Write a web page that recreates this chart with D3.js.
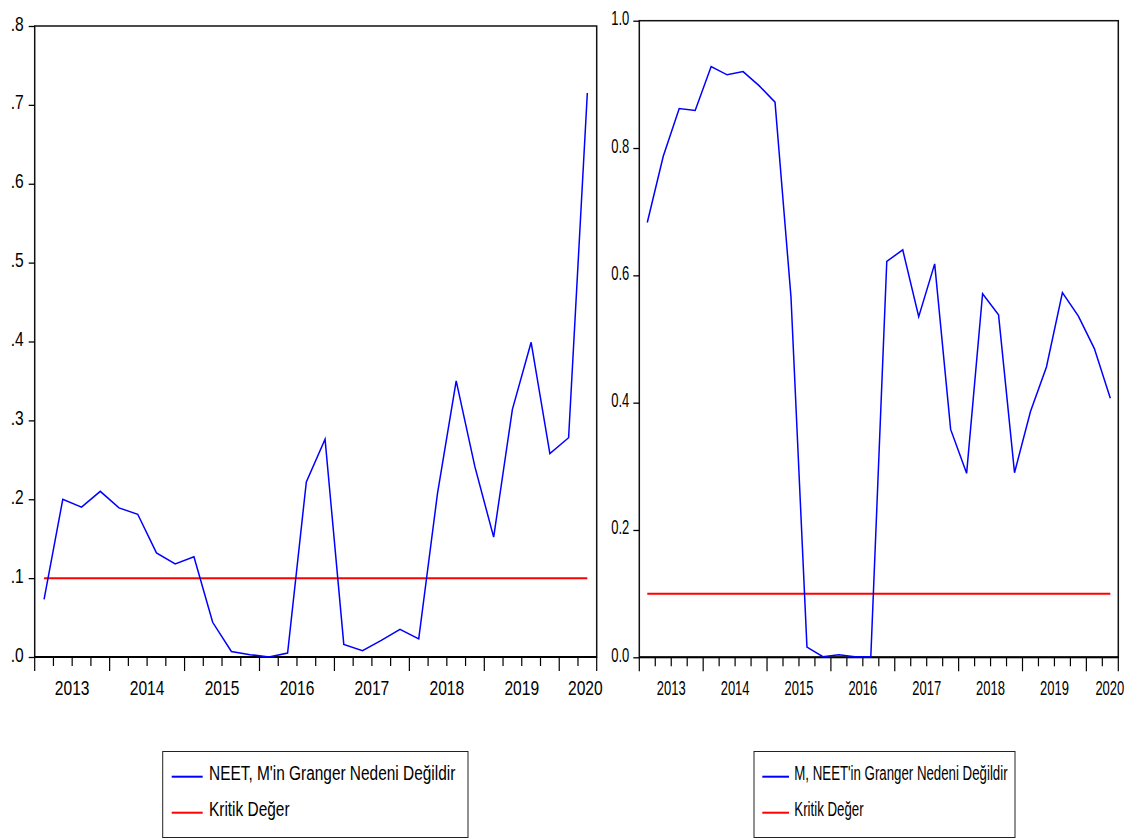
<!DOCTYPE html>
<html>
<head>
<meta charset="utf-8">
<script src="https://cdn.jsdelivr.net/npm/d3@7"></script>
<style>
  body { margin: 0; background: #fff; }
  text { font-family: "Liberation Sans Narrow", "Arial Narrow", "Liberation Sans", Arial, sans-serif; fill: #000; }
</style>
</head>
<body>
<script>
var width = 1133, height = 838;

// quarterly periods, 2013Q1 - 2020Q2
var quarters = ["2013Q1","2013Q2","2013Q3","2013Q4","2014Q1","2014Q2","2014Q3","2014Q4",
                "2015Q1","2015Q2","2015Q3","2015Q4","2016Q1","2016Q2","2016Q3","2016Q4",
                "2017Q1","2017Q2","2017Q3","2017Q4","2018Q1","2018Q2","2018Q3","2018Q4",
                "2019Q1","2019Q2","2019Q3","2019Q4","2020Q1","2020Q2"];
var years = ["2013","2014","2015","2016","2017","2018","2019","2020"];

// p-values, NEET -> M
var neetToM = [0.073, 0.200, 0.190, 0.210, 0.189, 0.181, 0.132, 0.118, 0.127, 0.044,
               0.007, 0.003, 0.000, 0.005, 0.222, 0.276, 0.016, 0.008, 0.021, 0.035,
               0.023, 0.207, 0.350, 0.241, 0.152, 0.314, 0.399, 0.258, 0.278, 0.715];
// p-values, M -> NEET
var mToNeet = [0.683, 0.787, 0.862, 0.859, 0.928, 0.915, 0.920, 0.898, 0.872, 0.566,
               0.016, 0.001, 0.004, 0.001, 0.001, 0.622, 0.640, 0.535, 0.618, 0.358,
               0.289, 0.571, 0.538, 0.290, 0.386, 0.456, 0.573, 0.536, 0.485, 0.407];
var kritikDeger = 0.10;

var leftTicks = [0, 0.1, 0.2, 0.3, 0.4, 0.5, 0.6, 0.7, 0.8];
var rightTicks = [0, 0.2, 0.4, 0.6, 0.8, 1.0];

var svg = d3.select("body").append("svg").attr("width", width).attr("height", height);

// no narrow font installed, so squeeze text horizontally
function placeText(sel, x, y, sx) {
    sel.attr("x", 0).attr("y", 0).attr("dy", null)
       .attr("transform", "translate(" + x + "," + y + ") scale(" + sx + ",1)");
}

function drawPanel(cfg) {
    var g = svg.append("g");
    var x = d3.scaleBand().domain(quarters).range([cfg.x0, cfg.x1]).padding(0);
    var bw = x.bandwidth();
    var cx = function(q) { return x(q) + bw / 2; };
    var y = d3.scaleLinear().domain([0, cfg.ymax]).range([cfg.bottom, cfg.top]);

    // frame
    g.append("rect").attr("x", cfg.x0).attr("y", cfg.top)
     .attr("width", cfg.x1 - cfg.x0).attr("height", cfg.bottom - cfg.top)
     .attr("fill", "none").attr("stroke", "#111").attr("stroke-width", 1.5);
    g.append("line").attr("x1", cfg.x0).attr("x2", cfg.x1)
     .attr("y1", cfg.bottom).attr("y2", cfg.bottom)
     .attr("stroke", "#000").attr("stroke-width", 2);

    // y axis
    var yAxis = g.append("g").attr("transform", "translate(" + cfg.x0 + ",0)")
        .call(d3.axisLeft(y).tickValues(cfg.ticks).tickSizeInner(6).tickSizeOuter(0).tickFormat(cfg.fmt));
    yAxis.select(".domain").remove();
    yAxis.selectAll(".tick line").attr("stroke", "#000").attr("stroke-width", 1.3);
    yAxis.selectAll(".tick text").attr("font-size", 20).attr("text-anchor", "end")
        .each(function() { placeText(d3.select(this), -cfg.labelGap, 4, cfg.sx); });

    // x ticks
    var tickPos = quarters.map(function(q) { return { x: x(q), major: q.slice(4) === "Q1" }; });
    tickPos.push({ x: cfg.x1, major: true });
    g.selectAll(".xt").data(tickPos).enter().append("line")
     .attr("x1", function(d) { return d.x; }).attr("x2", function(d) { return d.x; })
     .attr("y1", cfg.bottom).attr("y2", function(d) { return cfg.bottom + (d.major ? 14 : 9); })
     .attr("stroke", "#000").attr("stroke-width", 1.2);

    // year labels
    g.selectAll(".yl").data(years).enter().append("text")
     .attr("font-size", 20)
     .attr("text-anchor", function(d) { return x(d + "Q4") === undefined ? "end" : "middle"; })
     .each(function(d) {
         var full = x(d + "Q4") !== undefined;
         var px = full ? x(d + "Q1") + 2 * bw : cfg.x1 + 6;
         placeText(d3.select(this), px, 695, cfg.sx);
     })
     .text(function(d) { return d; });

    // series
    var line = d3.line().x(function(d, i) { return cx(quarters[i]); }).y(function(d) { return y(d); });
    g.append("line")
     .attr("x1", cx(quarters[0])).attr("x2", cx(quarters[quarters.length - 1]))
     .attr("y1", y(kritikDeger)).attr("y2", y(kritikDeger))
     .attr("stroke", "#ff0000").attr("stroke-width", 2);
    g.append("path").datum(cfg.values).attr("d", line)
     .attr("fill", "none").attr("stroke", "#0000ff").attr("stroke-width", 1.5);

    // legend
    var lg = g.append("g");
    lg.append("rect").attr("x", cfg.lx).attr("y", 751.5).attr("width", cfg.lw).attr("height", 86)
      .attr("fill", "#fff").attr("stroke", "#222").attr("stroke-width", 1);
    var items = [{ name: cfg.label, color: "#0000ff", y: 776.7 }, { name: "Kritik Değer", color: "#ff0000", y: 812.7 }];
    items.forEach(function(it) {
        lg.append("line").attr("x1", cfg.lx + cfg.ls[0]).attr("x2", cfg.lx + cfg.ls[1])
          .attr("y1", it.y).attr("y2", it.y).attr("stroke", it.color).attr("stroke-width", 2);
        var t = lg.append("text").attr("font-size", 21).text(it.name);
        placeText(t, cfg.lx + cfg.ls[2], it.y + 3.5, cfg.lsx);
    });
}

drawPanel({
    x0: 34.7, x1: 596.7, top: 26, bottom: 657, ymax: 0.8, ticks: leftTicks,
    fmt: function(d) { return d3.format(".1f")(d).replace(/^0/, ""); },
    labelGap: 11, sx: 0.78, values: neetToM,
    lx: 162.7, lw: 305.3, ls: [9, 40, 46.3], lsx: 0.735,
    label: "NEET, M'in Granger Nedeni Değildir"
});
drawPanel({
    x0: 639.3, x1: 1118.3, top: 20.7, bottom: 657.3, ymax: 1.0, ticks: rightTicks,
    fmt: d3.format(".1f"),
    labelGap: 10, sx: 0.65, values: mToNeet,
    lx: 754, lw: 261, ls: [8.3, 35, 40.3], lsx: 0.632,
    label: "M, NEET'in Granger Nedeni Değildir"
});
</script>
</body>
</html>
